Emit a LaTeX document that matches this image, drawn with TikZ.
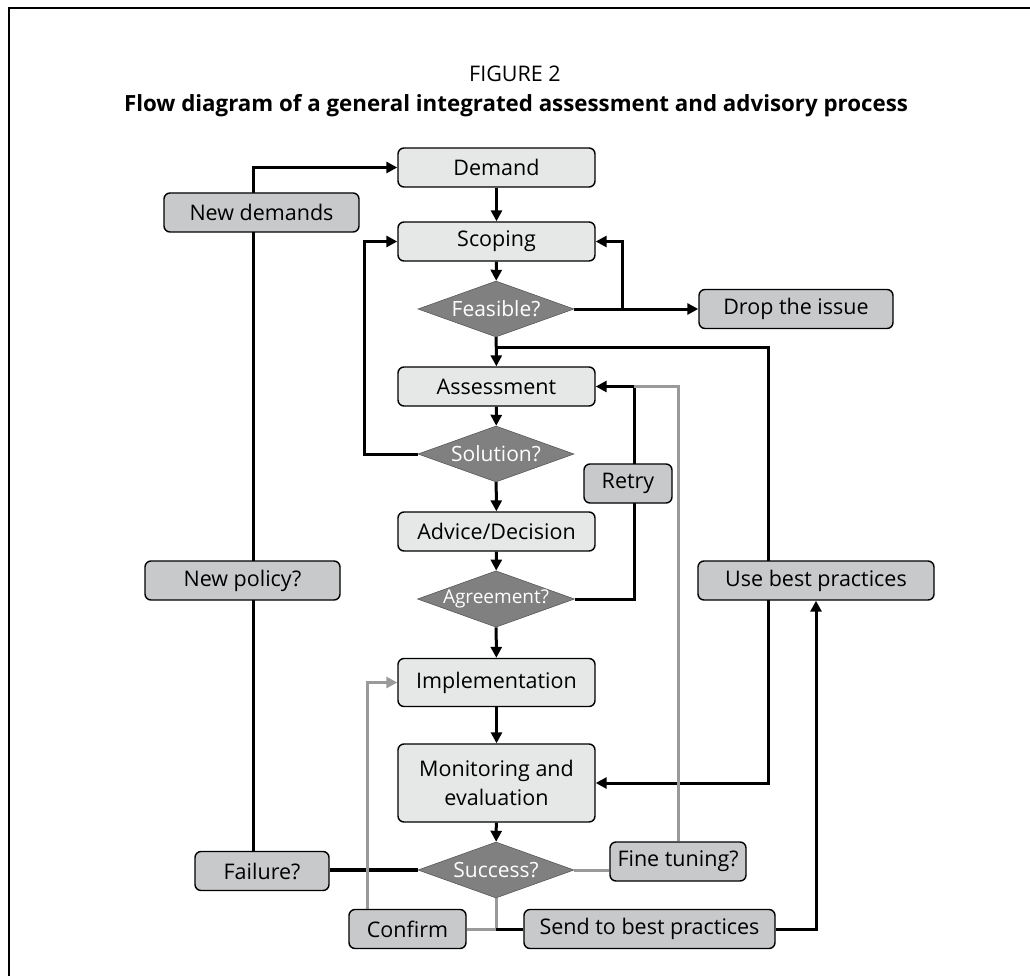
\documentclass[tikz,border=0pt]{standalone}
\usepackage{fontspec}
\setmainfont{Open Sans}
\usetikzlibrary{shapes.geometric,arrows.meta,backgrounds}

\definecolor{boxlight}{HTML}{E6E7E7}
\definecolor{boxmid}{HTML}{C8C9CA}
\definecolor{diafill}{HTML}{808080}
\definecolor{linegrey}{HTML}{9A9A9A}

\tikzset{
  procbox/.style={draw=black, line width=1.4pt, rounded corners=6pt, fill=boxlight,
    minimum width=197pt, minimum height=39pt, inner sep=0pt,
    font=\fontsize{21.5}{29}\selectfont, align=center},
  sidebox/.style={draw=black, line width=1.4pt, rounded corners=6pt, fill=boxmid,
    minimum height=39pt, inner sep=0pt, font=\fontsize{21.5}{24}\selectfont},
  decision/.style={diamond, aspect=2.786, fill=diafill, draw=black!65, line width=0.6pt,
    minimum width=156pt, minimum height=56pt, inner sep=0pt, text=white,
    font=\fontsize{21}{24}\selectfont},
  flow/.style={line width=3pt, -{Triangle[length=11pt,width=11pt]}},
  link/.style={line width=3pt},
  greyflow/.style={line width=3pt, draw=linegrey, -{Triangle[length=11pt,width=11pt]}},
  greylink/.style={line width=3pt, draw=linegrey},
}

\begin{document}
\begin{tikzpicture}[x=1pt,y=-1pt]
\useasboundingbox (0,0) rectangle (1030,976);

% frame
\draw[line width=1.2pt] (9,976) -- (9,8) -- (1030,8);

% headings
\node[font=\fontsize{21.5}{24}\selectfont] (figno) at (515,74) {FIGURE 2};
\node[font=\bfseries\fontsize{22.3}{26}\selectfont] (figtitle) at (516,106)
  {Flow diagram of a general integrated assessment and advisory process};

% main column
\node[procbox] (demand) at (496.5,167.5) {Demand};
\node[procbox] (scoping) at (496.5,241.5) {Scoping};
\node[decision] (feasible) at (496,309) {Feasible?};
\node[procbox] (assess) at (496.5,386.5) {Assessment};
\node[decision] (solution) at (496,454) {Solution?};
\node[procbox] (advice) at (496.5,531.5) {Advice/Decision};
\node[decision, font=\fontsize{19}{22}\selectfont] (agree) at (496,599) {Agreement?};
\node[procbox, minimum height=48pt] (impl) at (496.5,682.5) {Implementation};
\node[procbox, minimum height=78pt] (monitor) at (496.5,783) {Monitoring and\\evaluation};
\node[decision] (success) at (496,870) {Success?};

% side boxes
\node[sidebox, minimum width=195pt] (newdem) at (261.5,212.5) {New demands};
\node[sidebox, minimum width=194pt] (drop) at (796,309) {Drop the issue};
\node[sidebox, minimum width=88pt] (retry) at (628,483.5) {Retry};
\node[sidebox, minimum width=195pt] (newpol) at (242.5,580.5) {New policy?};
\node[sidebox, minimum width=236pt] (usebest) at (816,580.5) {Use best practices};
\node[sidebox, minimum width=134pt] (failure) at (262,871) {Failure?};
\node[sidebox, minimum width=136pt] (finetune) at (678,861.5) {Fine tuning?};
\node[sidebox, minimum width=117pt] (confirm) at (407.5,929) {Confirm};
\node[sidebox, minimum width=251pt] (sendbest) at (649.5,929) {Send to best practices};

% junction points
\coordinate (dropfork) at (622,309);
\coordinate (bestfork) at (496,347);
\coordinate (bestrail) at (768,347);
\coordinate (retryjoin) at (634,386.5);

\begin{pgfonlayer}{background}
  % main flow
  \draw[flow] (demand) -- (scoping);
  \draw[flow] (scoping) -- (feasible);
  \draw[flow] (feasible) -- (assess);
  \draw[flow] (assess) -- (solution);
  \draw[flow] (solution) -- (advice);
  \draw[flow] (advice) -- (agree);
  \draw[flow] (agree) -- (impl);
  \draw[flow] (impl) -- (monitor);
  \draw[flow] (monitor) -- (success);

  % feasibility branches
  \draw[flow] (feasible.east) -- (drop.west);
  \draw[flow] (dropfork) |- (scoping.east);
  \draw[flow] (bestfork) -- (bestrail) |- (monitor.east);

  % loops back
  \draw[flow] (solution.west) -- ++(-53,0) |- (scoping.west);
  \draw[link] (agree.east) -| (retryjoin);
  \draw[flow] (retryjoin) -- (assess.east);
  \draw[flow] ([xshift=-9pt]failure.north) |- (demand.west);

  % outcomes of success check
  \draw[link, line width=4pt] (success.west) -- (success.west -| failure.east);
  \draw[greylink] (success.east) -- (success.east -| finetune.west);
  \draw[greylink] (finetune.north) |- (retryjoin);
  \draw[greylink] (success.south) |- (confirm.east);
  \draw[link] (success.south |- sendbest.west) -- (sendbest.west);
  \draw[flow] (sendbest.east) -| (usebest.south);
  \draw[greyflow] ([xshift=-40.5pt]confirm.north) |- (impl.west);
\end{pgfonlayer}
\end{tikzpicture}
\end{document}
